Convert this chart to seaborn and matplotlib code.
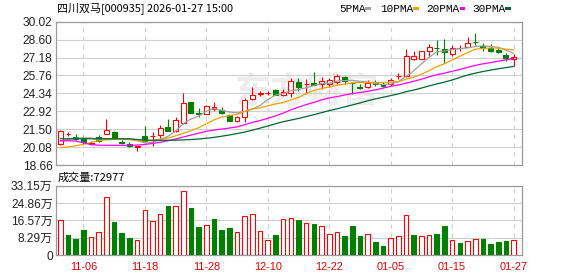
import numpy as np
import pandas as pd
import matplotlib
matplotlib.use("Agg")
import matplotlib.pyplot as plt
import seaborn as sns
from matplotlib.patches import Rectangle

# ---------------- data ----------------
dates = ["11-03", "11-04", "11-05", "11-06", "11-07", "11-10", "11-11", "11-12", "11-13", "11-14",
         "11-17", "11-18", "11-19", "11-20", "11-21", "11-24", "11-25", "11-26", "11-27", "11-28",
         "12-01", "12-02", "12-03", "12-04", "12-05", "12-08", "12-09", "12-10", "12-11", "12-12",
         "12-15", "12-16", "12-17", "12-18", "12-19", "12-22", "12-23", "12-24", "12-25", "12-26",
         "12-29", "12-30", "12-31", "01-05", "01-06", "01-07", "01-08", "01-09", "01-12", "01-13",
         "01-14", "01-15", "01-16", "01-19", "01-20", "01-21", "01-22", "01-23", "01-26", "01-27"]
tick_labels = ["11-06", "11-18", "11-28", "12-10", "12-22", "01-05", "01-15", "01-27"]

open_ = [20.29, 21.09, 20.87, 20.74, 20.36, 20.89, 21.11, 21.29, 20.46, 20.32,
         20.08, 20.95, 20.93, 21.03, 21.68, 21.34, 22.00, 23.62, 22.76, 22.74,
         23.06, 23.03, 22.66, 22.13, 22.43, 23.91, 24.30, 24.35, 24.60, 24.20,
         24.38, 25.26, 25.09, 25.18, 25.12, 25.12, 25.26, 25.63, 25.19, 24.81,
         24.81, 25.13, 25.12, 25.07, 25.68, 25.71, 27.08, 27.08, 27.72, 27.92,
         27.85, 27.43, 27.90, 28.04, 28.45, 28.09, 27.96, 27.80, 27.38, 27.06]
high = [21.45, 21.26, 21.11, 20.95, 20.58, 21.00, 22.31, 21.37, 20.61, 20.47,
        20.18, 21.76, 21.29, 21.82, 22.31, 22.45, 24.39, 23.64, 23.14, 23.38,
        23.67, 23.27, 22.74, 22.53, 23.99, 24.86, 24.54, 24.54, 24.68, 24.65,
        25.57, 25.55, 25.44, 26.03, 25.60, 25.52, 25.89, 25.71, 25.20, 25.07,
        25.39, 25.42, 25.23, 25.57, 25.99, 27.85, 27.69, 27.67, 28.22, 28.57,
        28.65, 28.17, 28.14, 28.83, 29.15, 28.36, 28.25, 27.90, 27.51, 27.43]
low = [20.24, 20.92, 20.63, 20.34, 20.21, 20.47, 21.11, 20.74, 20.29, 20.11,
       19.74, 20.50, 20.13, 20.84, 21.32, 21.26, 21.89, 22.78, 22.48, 22.69,
       22.93, 22.74, 22.13, 22.05, 22.03, 23.80, 24.15, 24.20, 24.20, 24.15,
       24.06, 24.54, 24.28, 24.99, 24.67, 24.86, 25.10, 25.12, 24.25, 24.65,
       24.78, 24.91, 24.81, 24.91, 25.49, 25.60, 27.00, 27.08, 27.19, 27.38,
       26.75, 27.30, 27.69, 28.01, 28.17, 27.69, 27.59, 27.51, 26.90, 26.53]
close = [21.32, 21.11, 20.71, 20.47, 20.38, 20.58, 21.45, 20.76, 20.44, 20.14,
         20.17, 20.55, 20.96, 21.58, 21.39, 22.21, 23.54, 22.80, 22.74, 23.33,
         23.27, 22.80, 22.16, 22.43, 23.85, 24.20, 24.33, 24.38, 24.23, 24.44,
         25.31, 24.86, 25.12, 25.02, 25.31, 25.39, 25.71, 25.34, 25.17, 24.79,
         25.15, 25.11, 24.91, 25.42, 25.71, 27.32, 27.30, 27.67, 27.98, 27.90,
         27.61, 27.96, 27.93, 28.30, 28.43, 27.91, 27.72, 27.59, 27.14, 27.24]

ma5 = [20.55, 20.68, 20.76, 20.82, 20.80, 20.65, 20.72, 20.73, 20.72, 20.67,
       20.59, 20.41, 20.45, 20.68, 20.93, 21.34, 21.94, 22.30, 22.54, 22.92,
       23.14, 22.99, 22.86, 22.80, 22.90, 23.09, 23.39, 23.84, 24.20, 24.32,
       24.54, 24.64, 24.79, 24.95, 25.12, 25.14, 25.31, 25.35, 25.38, 25.28,
       25.23, 25.11, 25.03, 25.08, 25.26, 25.69, 26.13, 26.68, 27.20, 27.63,
       27.69, 27.82, 27.88, 27.94, 28.05, 28.11, 28.06, 27.99, 27.76, 27.52]
ma10 = [20.03, 20.10, 20.18, 20.30, 20.45, 20.58, 20.66, 20.69, 20.70, 20.74,
        20.62, 20.57, 20.59, 20.70, 20.80, 20.97, 21.17, 21.38, 21.61, 21.93,
        22.24, 22.46, 22.58, 22.67, 22.91, 23.11, 23.19, 23.35, 23.50, 23.61,
        23.81, 24.02, 24.32, 24.57, 24.72, 24.84, 24.98, 25.07, 25.17, 25.20,
        25.19, 25.21, 25.19, 25.23, 25.27, 25.46, 25.62, 25.86, 26.14, 26.45,
        26.69, 26.98, 27.28, 27.57, 27.84, 27.90, 27.94, 27.93, 27.85, 27.78]
ma20 = [20.58, 20.58, 20.56, 20.42, 20.28, 20.23, 20.22, 20.22, 20.22, 20.22,
        20.24, 20.29, 20.37, 20.46, 20.58, 20.72, 20.88, 21.03, 21.18, 21.33,
        21.43, 21.51, 21.59, 21.68, 21.86, 22.04, 22.18, 22.36, 22.55, 22.77,
        23.03, 23.24, 23.45, 23.62, 23.82, 23.98, 24.08, 24.21, 24.33, 24.41,
        24.50, 24.62, 24.75, 24.90, 25.00, 25.15, 25.30, 25.46, 25.65, 25.82,
        25.94, 26.09, 26.24, 26.40, 26.56, 26.68, 26.78, 26.89, 26.99, 27.12]
ma30 = [20.74, 20.74, 20.74, 20.74, 20.74, 20.74, 20.74, 20.74, 20.74, 20.74,
        20.68, 20.64, 20.62, 20.62, 20.62, 20.63, 20.65, 20.68, 20.72, 20.78,
        20.85, 20.94, 21.04, 21.15, 21.27, 21.42, 21.58, 21.75, 21.93, 22.09,
        22.22, 22.35, 22.50, 22.65, 22.81, 22.97, 23.11, 23.27, 23.42, 23.58,
        23.75, 23.90, 24.03, 24.16, 24.30, 24.47, 24.60, 24.76, 24.93, 25.09,
        25.23, 25.40, 25.60, 25.79, 25.94, 26.07, 26.18, 26.29, 26.38, 26.48]

volume_wan = [16.7, 9.6, 7.6, 12.0, 8.4, 11.0, 27.6, 15.8, 10.5, 8.1,
              7.2, 21.4, 16.1, 19.6, 23.4, 23.4, 30.4, 22.5, 13.4, 14.3,
              17.2, 12.0, 12.9, 11.0, 18.5, 19.6, 11.5, 7.2, 9.6, 17.1,
              17.5, 16.7, 15.3, 15.0, 13.7, 10.0, 11.0, 9.1, 13.9, 9.1,
              10.0, 6.4, 4.3, 8.1, 9.1, 19.1, 9.6, 8.9, 9.6, 10.2,
              13.9, 7.2, 5.9, 6.7, 7.5, 7.6, 5.4, 6.4, 6.9, 7.2977]
volume_up = [1, 0, 0, 0, 1, 1, 1, 0, 0, 0,
             1, 1, 1, 1, 0, 1, 1, 0, 0, 1,
             0, 0, 0, 1, 1, 1, 1, 1, 0, 1,
             1, 0, 1, 0, 1, 1, 1, 0, 0, 0,
             1, 0, 0, 1, 1, 1, 0, 1, 1, 0,
             0, 1, 0, 1, 1, 0, 0, 0, 0, 1]

price_ticks = [18.66, 20.08, 21.50, 22.92, 24.34, 25.76, 27.18, 28.60, 30.02]
vol_ticks = [0, 8.29, 16.57, 24.86, 33.15]
vol_tick_labels = ["0", "8.29万", "16.57万", "24.86万", "33.15万"]
title = "四川双马[000935] 2026-01-27 15:00"
vol_title = "成交量:72977"
ma_names = ["5PMA", "10PMA", "20PMA", "30PMA"]

# ---------------- style ----------------
sns.set_theme(style="white")
plt.rcParams["font.family"] = ["Liberation Sans", "Noto Sans CJK SC", "DejaVu Sans"]

RED = "#ff0000"
GREEN = "#008000"
MA_COLORS = ["#a0a0a0", "#f0a000", "#ff00ff", "#006633"]
GRID = "#d0d0d0"
BORDER = "#9a9a9a"
TXT = "#222222"

W, H = 578, 276
fig = plt.figure(figsize=(W / 100, H / 100), dpi=100)
fig.patch.set_facecolor("white")


def rect(l, t, r, b):
    return [l / W, 1 - b / H, (r - l) / W, (b - t) / H]


ax = fig.add_axes(rect(55.7, 21.7, 522.3, 165))
axv = fig.add_axes(rect(55.7, 185.7, 522.3, 255))

df = pd.DataFrame({"date": dates, "open": open_, "high": high, "low": low,
                   "close": close, "ma5": ma5, "ma10": ma10, "ma20": ma20,
                   "ma30": ma30, "vol": volume_wan, "up": volume_up})
df["x"] = np.arange(len(df))
tick_pos = [dates.index(t) for t in tick_labels]

XL = (-0.6, 60.13)
body_w = 0.64

# ---------------- price panel ----------------
ax.text(0.5386, 0.506, "东方财富", transform=ax.transAxes, ha="center", va="center",
        fontsize=26, fontweight="bold", color="#ededed", zorder=0.1,
        family=["Noto Sans CJK SC"])

for _, r in df.iterrows():
    up = r["close"] >= r["open"]
    col = RED if up else GREEN
    ax.vlines(r["x"], r["low"], r["high"], color=col, lw=0.8, zorder=2)
    bottom = min(r["open"], r["close"])
    hgt = max(abs(r["close"] - r["open"]), 0.005)
    ax.add_patch(Rectangle((r["x"] - body_w / 2, bottom), body_w, hgt,
                           facecolor="white" if up else GREEN, edgecolor=col,
                           lw=0.8, zorder=3))

for name, col in zip(["ma5", "ma10", "ma20", "ma30"], MA_COLORS):
    sns.lineplot(data=df, x="x", y=name, ax=ax, color=col, lw=0.9,
                 legend=False, zorder=4)

ax.set_xlim(*XL)
ax.set_ylim(price_ticks[0], price_ticks[-1])
ax.set_yticks(price_ticks)
ax.set_yticklabels([f"{v:.2f}" for v in price_ticks])
ax.set_xticks(tick_pos)
ax.set_xticklabels([])
ax.set_xlabel("")
ax.set_ylabel("")

# ---------------- volume panel ----------------
face = ["white" if u else GREEN for u in df["up"]]
edge = [RED if u else GREEN for u in df["up"]]
axv.bar(df["x"], df["vol"], width=0.6, color=face, edgecolor=edge, lw=0.8, zorder=3)
axv.set_xlim(*XL)
axv.set_ylim(0, vol_ticks[-1])
axv.set_yticks(vol_ticks)
axv.set_yticklabels(vol_tick_labels)
axv.set_xticks(tick_pos)
axv.set_xticklabels(tick_labels)

for a in (ax, axv):
    a.set_facecolor("none")
    a.set_axisbelow(True)
    a.grid(axis="y", color=GRID, lw=0.8, ls="-")
    a.grid(axis="x", color=GRID, lw=0.8, ls=(0, (4, 4)))
    for s in a.spines.values():
        s.set_color(BORDER)
        s.set_linewidth(0.9)
        s.set_visible(True)
    a.tick_params(axis="both", length=0)
    a.tick_params(axis="y", pad=2.2, labelsize=8.6, labelcolor=TXT)

axv.tick_params(axis="x", pad=5, labelsize=7.9, labelcolor="#ee0000")

# ---------------- header texts ----------------
fig.text(57 / W, 1 - 8.5 / H, title, ha="left", va="center", fontsize=7.9,
         color="black", family=["Noto Sans CJK SC", "DejaVu Sans"])
fig.text(58 / W, 1 - 177.5 / H, vol_title, ha="left", va="center", fontsize=8.0,
         color="black", family=["Noto Sans CJK SC", "DejaVu Sans"])

legend_text_x = [339, 380, 426, 472]
legend_mark_x = [365.3, 413.3, 459.7, 505.3]
for name, col, tx, mx in zip(ma_names, MA_COLORS, legend_text_x, legend_mark_x):
    fig.text(tx / W, 1 - 8.7 / H, name, ha="left", va="center", fontsize=8.0,
             color="black", family=["Liberation Mono"])
    fig.patches.append(Rectangle((mx / W, 1 - 10.0 / H), 5.4 / W, 2.8 / H,
                                 transform=fig.transFigure, facecolor=col,
                                 edgecolor="none"))

fig.savefig("out.png", dpi=100, facecolor="white")
